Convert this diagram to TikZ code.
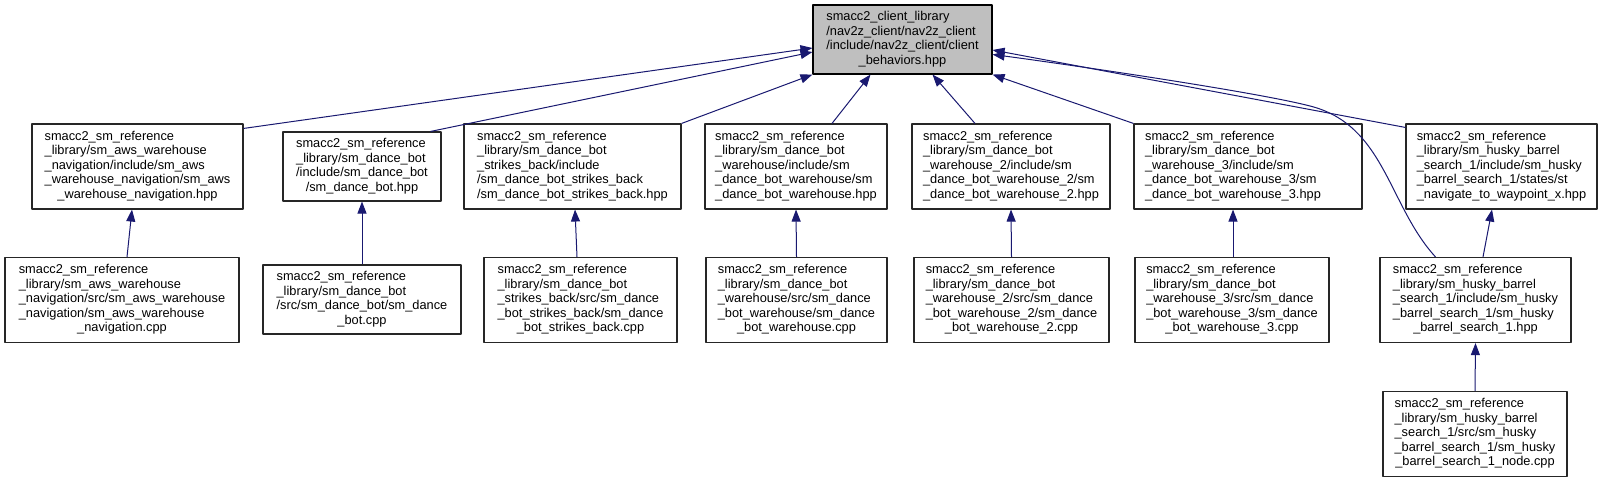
\documentclass[tikz,border=0pt]{standalone}
\usepackage{fontspec}
\setmainfont{Liberation Sans}
\usepackage{xcolor}
\usepackage{tikz}
\usetikzlibrary{arrows.meta}

\definecolor{edgeblue}{HTML}{191970}
\definecolor{rootgray}{HTML}{BFBFBF}
% label: left lines, then the last line centred
\newcommand{\flabel}[2]{\begin{tabular}{@{}l@{}}#1\\\multicolumn{1}{@{}c@{}}{#2}\end{tabular}}

\begin{document}
\begin{tikzpicture}[x=1pt, y=-1pt, >={Triangle[length=12pt,width=9pt]}, line join=round,
  file/.style={draw=black!85, fill=white, line width=1.1pt, inner sep=0pt, minimum height=85pt,
    font=\fontsize{12.8}{14.5}\selectfont},
  rootfile/.style={file, draw=black, fill=rootgray},
  dep/.style={->, draw=edgeblue, line width=1pt}]
  \useasboundingbox (0,0) rectangle (1603,481);

  % header that everything includes
  \node[rootfile, minimum width=179pt, minimum height=69pt] (root) at (902.5,39.5)
    {\flabel{smacc2\_client\_library\\/nav2z\_client/nav2z\_client\\/include/nav2z\_client/client}{\_behaviors.hpp}};

  % state machine headers
  \node[file, minimum width=211pt] (awsh) at (137.5,166.5)
    {\flabel{smacc2\_sm\_reference\\\_library/sm\_aws\_warehouse\\\_navigation/include/sm\_aws\\\_warehouse\_navigation/sm\_aws}{\_warehouse\_navigation.hpp}};
  \node[file, minimum width=158pt, minimum height=69pt] (dbh) at (362,166.5)
    {\flabel{smacc2\_sm\_reference\\\_library/sm\_dance\_bot\\/include/sm\_dance\_bot}{/sm\_dance\_bot.hpp}};
  \node[file, minimum width=217pt] (sbh) at (572.5,166.5)
    {\flabel{smacc2\_sm\_reference\\\_library/sm\_dance\_bot\\\_strikes\_back/include\\/sm\_dance\_bot\_strikes\_back}{/sm\_dance\_bot\_strikes\_back.hpp}};
  \node[file, minimum width=182pt] (dbwh) at (796,166.5)
    {\flabel{smacc2\_sm\_reference\\\_library/sm\_dance\_bot\\\_warehouse/include/sm\\\_dance\_bot\_warehouse/sm}{\_dance\_bot\_warehouse.hpp}};
  \node[file, minimum width=198pt] (dbwtwoh) at (1011,166.5)
    {\flabel{smacc2\_sm\_reference\\\_library/sm\_dance\_bot\\\_warehouse\_2/include/sm\\\_dance\_bot\_warehouse\_2/sm}{\_dance\_bot\_warehouse\_2.hpp}};
  \node[file, minimum width=228pt] (dbwthreeh) at (1248,166.5)
    {\flabel{smacc2\_sm\_reference\\\_library/sm\_dance\_bot\\\_warehouse\_3/include/sm\\\_dance\_bot\_warehouse\_3/sm}{\_dance\_bot\_warehouse\_3.hpp}\hspace*{30pt}};
  \node[file, minimum width=191pt] (navwp) at (1501.5,166.5)
    {\flabel{smacc2\_sm\_reference\\\_library/sm\_husky\_barrel\\\_search\_1/include/sm\_husky\\\_barrel\_search\_1/states/st}{\_navigate\_to\_waypoint\_x.hpp}};

  % sources and the husky header
  \node[file, minimum width=234pt] (awsc) at (122,300)
    {\flabel{smacc2\_sm\_reference\\\_library/sm\_aws\_warehouse\\\_navigation/src/sm\_aws\_warehouse\\\_navigation/sm\_aws\_warehouse}{\_navigation.cpp}};
  \node[file, minimum width=198pt, minimum height=69pt] (dbc) at (362,299.5)
    {\flabel{smacc2\_sm\_reference\\\_library/sm\_dance\_bot\\/src/sm\_dance\_bot/sm\_dance}{\_bot.cpp}};
  \node[file, minimum width=193pt] (sbc) at (580.5,300)
    {\flabel{smacc2\_sm\_reference\\\_library/sm\_dance\_bot\\\_strikes\_back/src/sm\_dance\\\_bot\_strikes\_back/sm\_dance}{\_bot\_strikes\_back.cpp}};
  \node[file, minimum width=181pt] (dbwc) at (796.5,300)
    {\flabel{smacc2\_sm\_reference\\\_library/sm\_dance\_bot\\\_warehouse/src/sm\_dance\\\_bot\_warehouse/sm\_dance}{\_bot\_warehouse.cpp}};
  \node[file, minimum width=195pt] (dbwtwoc) at (1011.5,300)
    {\flabel{smacc2\_sm\_reference\\\_library/sm\_dance\_bot\\\_warehouse\_2/src/sm\_dance\\\_bot\_warehouse\_2/sm\_dance}{\_bot\_warehouse\_2.cpp}};
  \node[file, minimum width=194pt] (dbwthreec) at (1232,300)
    {\flabel{smacc2\_sm\_reference\\\_library/sm\_dance\_bot\\\_warehouse\_3/src/sm\_dance\\\_bot\_warehouse\_3/sm\_dance}{\_bot\_warehouse\_3.cpp}};
  \node[file, minimum width=191pt] (huskyh) at (1475.5,300)
    {\flabel{smacc2\_sm\_reference\\\_library/sm\_husky\_barrel\\\_search\_1/include/sm\_husky\\\_barrel\_search\_1/sm\_husky}{\_barrel\_search\_1.hpp}};
  \node[file, minimum width=184pt] (huskyc) at (1475,434)
    {\flabel{smacc2\_sm\_reference\\\_library/sm\_husky\_barrel\\\_search\_1/src/sm\_husky\\\_barrel\_search\_1/sm\_husky}{\_barrel\_search\_1\_node.cpp}};

  % includes into the root header
  \draw[dep] ([yshift=-5pt]awsh.north east) -- ([yshift=-8.5pt]root.west);
  \draw[dep] ([xshift=-11pt]dbh.north east) -- ([yshift=-12.5pt]root.west);
  \draw[dep] (sbh.north east) -- (root.south west);
  \draw[dep] ([xshift=36pt]dbwh.north) -- ([xshift=-32pt]root.south);
  \draw[dep] ([xshift=-36pt]dbwtwoh.north) -- ([xshift=30pt]root.south);
  \draw[dep] (dbwthreeh.north west) -- (root.south east);
  \draw[dep] ([yshift=-4pt]navwp.north west) -- ([yshift=-10.5pt]root.east);
  \draw[dep] ([xshift=-40pt]huskyh.north) .. controls (1388,205) and (1385,125) .. (1310,106)
    .. controls (1252,91) and (1050,62) .. ([yshift=-15pt]root.east);

  % includes into the other headers
  \draw[dep] ([xshift=5pt]awsc.north) -- ([xshift=-5.5pt]awsh.south);
  \draw[dep] (dbc.north) -- (dbh.south);
  \draw[dep] ([xshift=-3.5pt]sbc.north) -- ([xshift=2.5pt]sbh.south);
  \draw[dep] (dbwc.north) -- (dbwh.south);
  \draw[dep] (dbwtwoc.north) -- (dbwtwoh.south);
  \draw[dep] ([xshift=1pt]dbwthreec.north) -- ([xshift=-15pt]dbwthreeh.south);
  \draw[dep] ([xshift=7.5pt]huskyh.north) -- ([xshift=-9.5pt]navwp.south);
  \draw[dep] (huskyc.north) -- (huskyh.south);
\end{tikzpicture}
\end{document}
